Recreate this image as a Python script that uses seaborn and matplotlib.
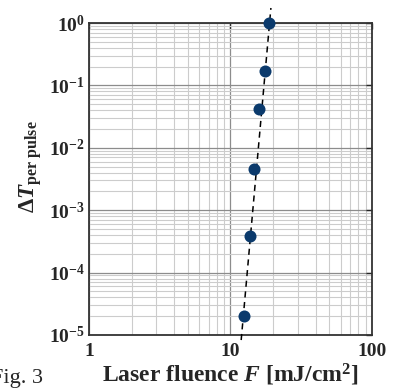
import numpy as np
import pandas as pd
import matplotlib
matplotlib.use('Agg')
import matplotlib.pyplot as plt
import matplotlib.ticker as mticker
import seaborn as sns

# ── data ──
fluence = [12.4, 13.7, 14.7, 16.0, 17.4, 18.6]            # mJ/cm^2
delta_t = [2.0e-5, 3.8e-4, 4.5e-3, 4.2e-2, 1.7e-1, 1.0]   # per pulse
fit_fluence = [11.9, 19.3]
fit_delta_t = [8.3e-6, 1.74]

sns.set_style("white")
plt.rcParams['font.family'] = ['Liberation Serif', 'DejaVu Serif']
plt.rcParams['font.weight'] = 'bold'
plt.rcParams['mathtext.fontset'] = 'custom'
plt.rcParams['mathtext.rm'] = 'Liberation Serif:bold'
plt.rcParams['mathtext.it'] = 'Liberation Serif:italic:bold'
plt.rcParams['mathtext.bf'] = 'Liberation Serif:bold'

fig = plt.figure(figsize=(3.96, 3.88), dpi=100)
ax = fig.add_axes([0.2247, 0.1366, 0.7147, 0.8041])

ax.set_xscale('log')
ax.set_yscale('log')
ax.set_xlim(1, 100)
ax.set_ylim(1e-5, 1)

ax.xaxis.set_minor_locator(mticker.LogLocator(base=10, subs=np.arange(2, 10)))
ax.yaxis.set_minor_locator(mticker.LogLocator(base=10, subs=np.arange(2, 10)))
ax.xaxis.set_minor_formatter(mticker.NullFormatter())
ax.yaxis.set_minor_formatter(mticker.NullFormatter())
ax.xaxis.set_major_formatter(mticker.FuncFormatter(lambda v, p: f"{v:g}"))

ax.grid(which='major', color='#8c8c8c', linewidth=0.9)
ax.grid(which='minor', color='#cccccc', linewidth=0.8)
ax.set_axisbelow(True)

df = pd.DataFrame({"F": fluence, "dT": delta_t})
fit = pd.DataFrame({"F": fit_fluence, "dT": fit_delta_t})
sns.lineplot(data=fit, x="F", y="dT", ax=ax, color='black', linestyle=(0, (4, 3)),
             linewidth=1.1, clip_on=False, zorder=3)
sns.scatterplot(data=df, x="F", y="dT", ax=ax, color='#0b3a6c', s=75,
                linewidth=0, clip_on=False, zorder=4)

for sp in ax.spines.values():
    sp.set_color('#333333')
    sp.set_linewidth(1.3)

ax.tick_params(which='major', direction='in', length=4, width=1, top=True, right=True,
               labelsize=14, pad=3)
ax.tick_params(axis='x', which='major', pad=6)
ax.tick_params(which='minor', length=0)
for lab in ax.get_xticklabels() + ax.get_yticklabels():
    lab.set_fontweight('bold')

ax.set_xlabel(r"Laser fluence $F$ [mJ/cm$^{\rm 2}$]", fontsize=17, fontweight='bold', labelpad=1)
ax.set_ylabel(r"$\Delta T_{\rm per\ pulse}$", fontsize=16.5, fontweight='bold')
ax.yaxis.set_label_coords(-0.16, 0.54)

fig.text(43 / 396, 1 - 383 / 388, "Fig. 3", ha='right', va='baseline',
         fontsize=16, fontweight='normal')

fig.savefig("out.png", dpi=100)
